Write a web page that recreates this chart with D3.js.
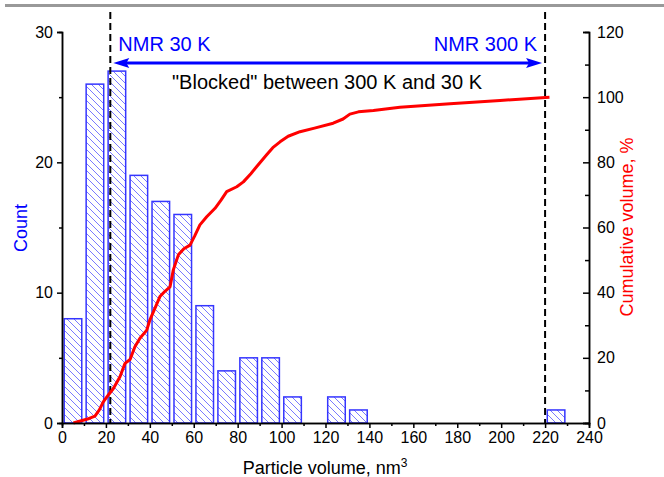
<!DOCTYPE html>
<html>
<head>
<meta charset="utf-8">
<script src="https://cdn.jsdelivr.net/npm/d3@7"></script>
<style>
  body { margin: 0; background: #fff; }
  svg { display: block; font-family: "Liberation Sans", Arial, sans-serif; }
</style>
</head>
<body>
<div id="chart"></div>
<script>
// histogram bins (nm^3) and counts
var binStarts = [0, 10, 20, 30, 40, 50, 60, 70, 80, 90, 100, 120, 130, 220];
var counts    = [8, 26, 27, 19, 17, 16, 9, 4, 5, 5, 2, 2, 1, 1];
var binWidth = 10;

// cumulative volume curve
var cumX = [5.2, 12.4, 15, 17, 18.8, 21.1, 23.4, 26.4, 28.7, 31, 33.2, 35.5, 38.6, 40, 42.5, 44.6, 47, 49.2, 50.7, 53, 55.5, 58.3, 60.5, 62.8, 65.9, 69.7, 72.5, 75, 79.6, 82.6, 86, 88.7, 93.2, 96, 99.3, 103, 108.4, 115, 123.5, 128, 131.1, 135, 141.8, 153.9, 176.7, 199.5, 222];
var cumY = [0, 1.4, 2.1, 4, 6.5, 8.6, 10.6, 14.2, 18.3, 19.5, 23.4, 26, 28.5, 31.6, 35.5, 38.8, 40.5, 41.8, 47, 51.6, 53.5, 54.6, 57.5, 60.8, 63.3, 65.9, 68.5, 71, 72.5, 74, 76.5, 78.7, 82.3, 84.5, 86.3, 88, 89.4, 90.5, 92, 93.3, 94.8, 95.5, 95.9, 96.9, 98, 99, 100];

var xTicks = d3.range(0, 241, 20);
var countTicks = [0, 10, 20, 30];
var pctTicks = [0, 20, 40, 60, 80, 100, 120];
var markers = [22, 220];  // NMR 30 K and NMR 300 K

var width = 664, height = 477;
var svg = d3.select("#chart").append("svg")
            .attr("width", width)
            .attr("height", height);

// grey rule at the very top
svg.append("rect")
   .attr("x", 5).attr("y", 4)
   .attr("width", width - 5).attr("height", 3)
   .attr("fill", "#999");

var x = d3.scaleLinear().domain([0, 240]).range([62, 589]);
var y = d3.scaleLinear().domain([0, 30]).range([423, 32]);
var y2 = d3.scaleLinear().domain([0, 120]).range([423, 32]);

// hatch pattern for the bars
var defs = svg.append("defs");
var pat = defs.append("pattern")
   .attr("id", "hatch")
   .attr("patternUnits", "userSpaceOnUse")
   .attr("width", 7).attr("height", 7);
pat.append("rect").attr("width", 7).attr("height", 7).attr("fill", "#fff");
pat.append("path")
   .attr("d", "M0,0 L7,7 M-1,6 L1,8 M6,-1 L8,1")
   .attr("stroke", "#7a7aff")
   .attr("stroke-width", 1);

// bars
svg.append("g").selectAll("rect")
   .data(binStarts)
   .join("rect")
     .attr("x", function(d) { return x(d + 1); })
     .attr("width", function(d) { return x(d + binWidth - 1) - x(d + 1); })
     .attr("y", function(d, i) { return y(counts[i]); })
     .attr("height", function(d, i) { return y(0) - y(counts[i]); })
     .attr("fill", "url(#hatch)")
     .attr("stroke", "#3535ff")
     .attr("stroke-width", 1.5);

// dashed marker lines
svg.append("g").selectAll("line")
   .data(markers)
   .join("line")
     .attr("x1", function(d) { return x(d); })
     .attr("x2", function(d) { return x(d); })
     .attr("y1", 12)
     .attr("y2", y(0))
     .attr("stroke", "#000")
     .attr("stroke-width", 2)
     .attr("stroke-dasharray", "7,4");

// cumulative curve
var cum = cumX.map(function(v, i) { return {x: v, y: cumY[i]}; });
svg.append("path")
   .datum(cum)
   .attr("d", d3.line().curve(d3.curveLinear)
     .x(function(d) { return x(d.x); })
     .y(function(d) { return y2(d.y); }))
   .attr("fill", "none")
   .attr("stroke", "#ff0000")
   .attr("stroke-width", 3)
   .attr("stroke-linejoin", "round");

// double arrow between the two markers
var ay = 63;
var ax1 = x(markers[0]) + 3, ax2 = x(markers[1]) - 3;
svg.append("line")
   .attr("x1", ax1 + 12).attr("x2", ax2 - 12)
   .attr("y1", ay).attr("y2", ay)
   .attr("stroke", "#0000ff").attr("stroke-width", 3);
svg.append("path")
   .attr("d", "M" + ax1 + "," + ay + " L" + (ax1 + 16) + "," + (ay - 5) + " L" + (ax1 + 13) + "," + ay + " L" + (ax1 + 16) + "," + (ay + 5) + " Z")
   .attr("fill", "#0000ff");
svg.append("path")
   .attr("d", "M" + ax2 + "," + ay + " L" + (ax2 - 16) + "," + (ay - 5) + " L" + (ax2 - 13) + "," + ay + " L" + (ax2 - 16) + "," + (ay + 5) + " Z")
   .attr("fill", "#0000ff");

svg.append("text")
   .attr("x", x(markers[0]) + 8).attr("y", 51)
   .attr("fill", "#0000ff")
   .style("font-size", "20px")
   .text("NMR 30 K");
svg.append("text")
   .attr("x", x(markers[1]) - 8).attr("y", 51)
   .attr("fill", "#0000ff")
   .style("font-size", "20px")
   .style("text-anchor", "end")
   .text("NMR 300 K");
svg.append("text")
   .attr("x", 327).attr("y", 89)
   .attr("fill", "#000")
   .style("font-size", "20px")
   .style("text-anchor", "middle")
   .text("\"Blocked\" between 300 K and 30 K");

// axes
function styleAxis(g) {
  g.select(".domain").attr("stroke", "#000").attr("stroke-width", 1.5);
  g.selectAll(".tick line").attr("stroke", "#000").attr("stroke-width", 1.5);
  g.selectAll(".tick text").style("font-size", "16px").attr("fill", "#000")
    .style("font-family", "Liberation Sans, Arial, sans-serif");
}

// minor ticks first
svg.append("g")
   .attr("transform", "translate(0," + y(0) + ")")
   .call(d3.axisBottom(x).tickValues(d3.range(10, 240, 20)).tickSize(3).tickFormat(""))
   .call(styleAxis);
svg.append("g")
   .attr("transform", "translate(" + x(0) + ",0)")
   .call(d3.axisLeft(y).tickValues([5, 15, 25]).tickSize(3).tickFormat(""))
   .call(styleAxis);
svg.append("g")
   .attr("transform", "translate(" + x(240) + ",0)")
   .call(d3.axisRight(y2).tickValues(d3.range(10, 120, 20)).tickSize(-4).tickFormat(""))
   .call(styleAxis);

svg.append("g")
   .attr("transform", "translate(0," + y(0) + ")")
   .call(d3.axisBottom(x).tickValues(xTicks).tickSize(5).tickPadding(4))
   .call(styleAxis);
svg.append("g")
   .attr("transform", "translate(" + x(0) + ",0)")
   .call(d3.axisLeft(y).tickValues(countTicks).tickSize(5).tickPadding(4))
   .call(styleAxis);
svg.append("g")
   .attr("transform", "translate(" + x(240) + ",0)")
   .call(d3.axisRight(y2).tickValues(pctTicks).tickSize(-6).tickPadding(8))
   .call(styleAxis);

// axis titles
var xt = svg.append("text")
   .attr("x", 325).attr("y", 474)
   .style("font-size", "18px")
   .style("text-anchor", "middle")
   .attr("fill", "#000");
xt.append("tspan").text("Particle volume, nm");
xt.append("tspan").attr("dy", -7).style("font-size", "12px").text("3");

svg.append("text")
   .attr("transform", "translate(27,228) rotate(-90)")
   .style("font-size", "18px")
   .style("text-anchor", "middle")
   .attr("fill", "#0000ff")
   .text("Count");

svg.append("text")
   .attr("transform", "translate(633,227) rotate(-90)")
   .style("font-size", "18px")
   .style("text-anchor", "middle")
   .attr("fill", "#ff0000")
   .text("Cumulative volume, %");
</script>
</body>
</html>
